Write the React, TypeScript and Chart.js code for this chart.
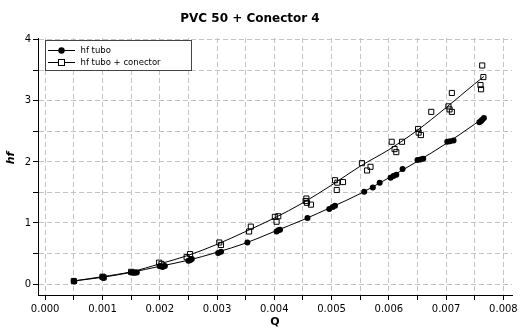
import React, { useEffect, useRef } from 'react';
import { Chart, registerables } from 'chart.js';

Chart.register(...registerables);

const TITLE = 'PVC 50 + Conector 4';
const X_TITLE = 'Q';
const Y_TITLE = 'hf';
const LEGEND_LABELS = ['hf tubo', 'hf tubo + conector'];

// hf tubo (filled circles)
const tuboQ = [0.0005, 0.00051, 0.001, 0.00102, 0.0015, 0.00155, 0.0016, 0.002, 0.00205, 0.00209, 0.0025, 0.00253, 0.00256, 0.00302, 0.00307, 0.00353, 0.00404, 0.00407, 0.0041, 0.00458, 0.00496, 0.00502, 0.00506, 0.00557, 0.00572, 0.00584, 0.00603, 0.00608, 0.00613, 0.00624, 0.0065, 0.00655, 0.0066, 0.00702, 0.00707, 0.00713, 0.00758, 0.00761, 0.00763, 0.00766];
const tuboHf = [0.05, 0.04, 0.11, 0.1, 0.19, 0.185, 0.19, 0.29, 0.28, 0.295, 0.38, 0.39, 0.41, 0.51, 0.53, 0.68, 0.86, 0.88, 0.89, 1.08, 1.23, 1.26, 1.28, 1.51, 1.58, 1.66, 1.74, 1.77, 1.79, 1.885, 2.03, 2.04, 2.05, 2.33, 2.34, 2.35, 2.65, 2.67, 2.69, 2.72];

// hf tubo + conector (open squares)
const conQ = [0.0005, 0.001, 0.00102, 0.0015, 0.00155, 0.00199, 0.00203, 0.00247, 0.00253, 0.00304, 0.00307, 0.00356, 0.00359, 0.00401, 0.00407, 0.00404, 0.00455, 0.00456, 0.00457, 0.00464, 0.00506, 0.00509, 0.0051, 0.0052, 0.00553, 0.00568, 0.00562, 0.00605, 0.0061, 0.00613, 0.00623, 0.00651, 0.00652, 0.00656, 0.00674, 0.00704, 0.00706, 0.0071, 0.0071, 0.00763, 0.00765, 0.0076, 0.00761];
const conHf = [0.05, 0.12, 0.11, 0.2, 0.19, 0.35, 0.33, 0.44, 0.49, 0.68, 0.64, 0.86, 0.94, 1.1, 1.11, 1.02, 1.36, 1.4, 1.33, 1.3, 1.7, 1.54, 1.66, 1.67, 1.98, 1.92, 1.86, 2.33, 2.21, 2.16, 2.33, 2.54, 2.48, 2.44, 2.82, 2.91, 2.86, 2.82, 3.13, 3.58, 3.39, 3.26, 3.19];

// curves drawn through each series
const curveQ = [0.0005, 0.001, 0.0015, 0.002, 0.0025, 0.003, 0.0035, 0.004, 0.0045, 0.005, 0.0055, 0.006, 0.0065, 0.007, 0.0075, 0.00766];
const tuboCurve = [0.05, 0.11, 0.19, 0.29, 0.39, 0.52, 0.67, 0.86, 1.05, 1.26, 1.48, 1.74, 2.01, 2.3, 2.62, 2.73];
const conCurve = [0.05, 0.12, 0.2, 0.33, 0.47, 0.65, 0.86, 1.08, 1.33, 1.62, 1.93, 2.2, 2.52, 2.89, 3.28, 3.4];

const X_MIN = -0.000125;
const X_MAX = 0.00815;
const Y_MIN = -0.18;
const Y_MAX = 4.03;

const pts = (xs: number[], ys: number[]) => xs.map((x, i) => ({ x, y: ys[i] }));

const FONT = 'DejaVu Sans';

const overlay = {
  id: 'overlay',
  afterDraw(chart: any) {
    const ctx = chart.ctx;
    const area = chart.chartArea;
    ctx.save();
    ctx.fillStyle = '#000';
    // title
    ctx.font = `bold 12px ${FONT}`;
    ctx.textAlign = 'center';
    ctx.textBaseline = 'middle';
    ctx.fillText(TITLE, 250, 19);
    // x title
    ctx.font = `bold 11px ${FONT}`;
    ctx.fillText(X_TITLE, (area.left + area.right) / 2, 322);
    // y title
    ctx.save();
    ctx.translate(11, 158);
    ctx.rotate(-Math.PI / 2);
    ctx.font = `italic bold 11px ${FONT}`;
    ctx.fillText(Y_TITLE, 0, 0);
    ctx.restore();

    // legend
    const bx = 45.5, by = 40.5, bw = 146, bh = 30;
    ctx.fillStyle = '#fff';
    ctx.fillRect(bx, by, bw, bh);
    ctx.strokeStyle = '#444';
    ctx.lineWidth = 1;
    ctx.strokeRect(bx, by, bw, bh);
    const rows = [50.5, 62.5];
    rows.forEach((ry, i) => {
      ctx.strokeStyle = '#000';
      ctx.lineWidth = 1;
      ctx.beginPath();
      ctx.moveTo(48, ry);
      ctx.lineTo(75, ry);
      ctx.stroke();
      if (i === 0) {
        ctx.fillStyle = '#000';
        ctx.beginPath();
        ctx.arc(61.5, ry, 3.2, 0, Math.PI * 2);
        ctx.fill();
      } else {
        ctx.fillStyle = '#fff';
        ctx.fillRect(58.5, ry - 3, 6, 6);
        ctx.strokeRect(58.5, ry - 3, 6, 6);
      }
      ctx.fillStyle = '#000';
      ctx.font = `8.5px ${FONT}`;
      ctx.textAlign = 'left';
      ctx.textBaseline = 'middle';
      ctx.fillText(LEGEND_LABELS[i], 80.5, ry);
    });
    ctx.restore();
  },
};

export default function App() {
  const ref = useRef<HTMLCanvasElement>(null);
  useEffect(() => {
    if (!ref.current) return;
    const chart = new Chart(ref.current, {
      type: 'scatter',
      data: {
        datasets: [
          {
            label: LEGEND_LABELS[0],
            data: pts(tuboQ, tuboHf),
            pointStyle: 'circle',
            pointRadius: 3,
            backgroundColor: '#000',
            borderColor: '#000',
            borderWidth: 0,
            showLine: false,
            order: 1,
          },
          {
            label: LEGEND_LABELS[1],
            data: pts(conQ, conHf),
            pointStyle: 'rect',
            pointRadius: 3.6,
            backgroundColor: 'rgba(0,0,0,0)',
            borderColor: '#000',
            borderWidth: 1,
            showLine: false,
            order: 2,
          },
          {
            label: 'curve1',
            data: pts(curveQ, tuboCurve),
            showLine: true,
            pointRadius: 0,
            borderColor: '#000',
            borderWidth: 1,
            tension: 0.4,
            cubicInterpolationMode: 'monotone',
            order: 3,
          },
          {
            label: 'curve2',
            data: pts(curveQ, conCurve),
            showLine: true,
            pointRadius: 0,
            borderColor: '#000',
            borderWidth: 1,
            tension: 0.4,
            cubicInterpolationMode: 'monotone',
            order: 4,
          },
        ],
      },
      options: {
        responsive: false,
        animation: false,
        devicePixelRatio: 1,
        layout: { padding: { top: 38, right: 18, bottom: 0, left: 0 } },
        plugins: {
          legend: { display: false },
          title: { display: false },
          tooltip: { enabled: false },
        },
        scales: {
          x: {
            type: 'linear',
            min: X_MIN,
            max: X_MAX,
            afterFit: (s: any) => {
              s.height = 36;
            },
            ticks: {
              stepSize: 0.0005,
              includeBounds: false,
              autoSkip: false,
              maxRotation: 0,
              padding: 3,
              color: '#000',
              font: { family: FONT, size: 10 },
              callback: (v: any) => {
                const k = Math.round(Number(v) / 0.0005);
                return k % 2 === 0 ? (k * 0.0005).toFixed(3) : '';
              },
            },
            grid: {
              color: '#c4c4c4',
              lineWidth: 1,
              drawTicks: true,
              tickLength: 5,
              tickColor: '#000',
              tickBorderDash: [],
            },
            border: { display: true, color: '#000', width: 1, dash: [5, 3] },
          },
          y: {
            type: 'linear',
            min: Y_MIN,
            max: Y_MAX,
            afterFit: (s: any) => {
              s.width = 38;
            },
            ticks: {
              stepSize: 0.5,
              includeBounds: false,
              autoSkip: false,
              padding: 2,
              color: '#000',
              font: { family: FONT, size: 10 },
              callback: (v: any) => {
                const k = Math.round(Number(v) * 2);
                return k % 2 === 0 ? String(k / 2) : '';
              },
            },
            grid: {
              color: '#c4c4c4',
              lineWidth: 1,
              drawTicks: true,
              tickLength: 5,
              tickColor: '#000',
              tickBorderDash: [],
            },
            border: { display: true, color: '#000', width: 1, dash: [5, 3] },
          },
        },
      },
      plugins: [overlay],
    });
    return () => chart.destroy();
  }, []);
  return (
    <div style={{ position: 'fixed', left: 0, top: 0, width: 530, height: 331, background: '#fff' }}>
      <canvas ref={ref} width={530} height={331} style={{ display: 'block' }} />
    </div>
  );
}
